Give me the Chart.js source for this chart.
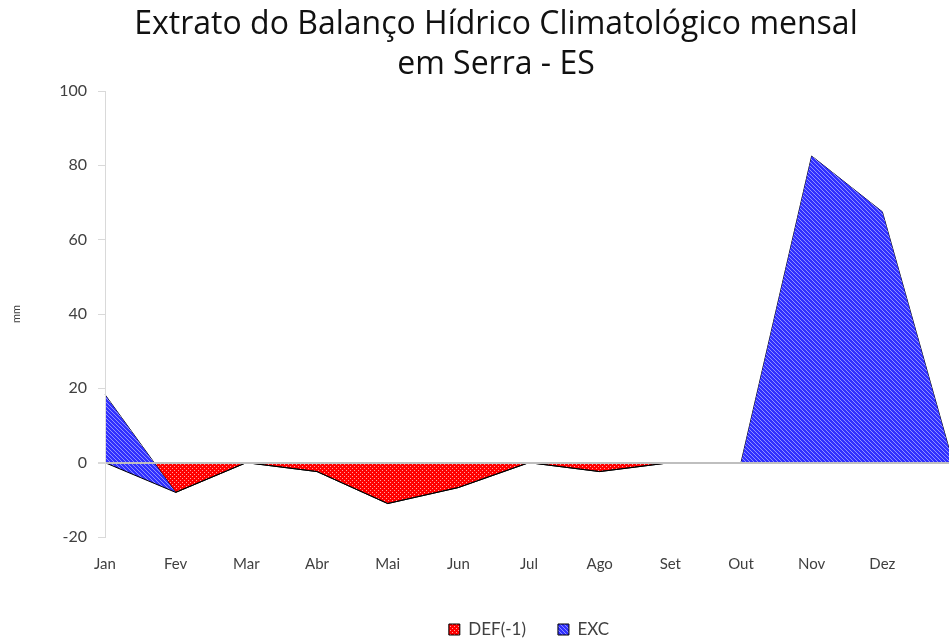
<!DOCTYPE html>
<html>
<head>
<meta charset="utf-8">
<script src="https://cdn.jsdelivr.net/npm/chart.js@4.4.1/dist/chart.umd.min.js"></script>
<style>
  html, body { margin: 0; padding: 0; overflow: hidden; background: #fff; }
  canvas { display: block; }
</style>
</head>
<body>
<canvas id="balanco" width="992" height="648"></canvas>
<script>
// the last, unlabelled month sits on the right edge of the picture (the plot is cut off there)
var months = ['Jan', 'Fev', 'Mar', 'Abr', 'Mai', 'Jun', 'Jul', 'Ago', 'Set', 'Out', 'Nov', 'Dez', ''];
var defVals = [0, -8, 0, -2.4, -11, -6.7, 0, -2.4, 0, 0, 0, 0, 0];
var excVals = [18.3, 0, 0, 0, 0, 0, 0, 0, 0, 0, 82.5, 67.5, 0];
var yMin = -20;
var yMax = 100;
var yStep = 20;

function makePattern(base, light, kind) {
    var c = document.createElement('canvas');
    c.width = 4;
    c.height = 4;
    var g = c.getContext('2d');
    g.fillStyle = base;
    g.fillRect(0, 0, 4, 4);
    g.fillStyle = light;
    if (kind === 'diag') {
        for (var i = 0; i < 4; i++) {
            g.fillRect(i, i, 1, 1);
        }
    } else {
        g.fillRect(0, 0, 1, 1);
        g.fillRect(2, 2, 1, 1);
    }
    return g.createPattern(c, 'repeat');
}

var redFill = makePattern('#ff0000', '#ffa0a0', 'dots');
var blueFill = makePattern('#3030ff', '#9090ff', 'diag');

Chart.defaults.font.family = 'Lato';

var ctx = document.getElementById('balanco').getContext('2d');

// stacked area like the spreadsheet: EXC sits on top of DEF.
// DEF fills up to the stacked EXC line (blue), the stacked line fills down to zero where it is negative (red),
// so the two regions never overlap.
var data = {
    labels: months,
    datasets: [
        {
            label: 'DEF(-1)',
            data: defVals,
            backgroundColor: redFill,
            borderColor: '#000',
            borderWidth: 1,
            fill: { target: '+1', above: blueFill, below: blueFill }
        },
        {
            label: 'EXC',
            data: excVals,
            backgroundColor: blueFill,
            borderColor: '#000',
            borderWidth: 1,
            fill: { target: 'origin', above: 'rgba(0,0,0,0)', below: redFill }
        }
    ]
};

var options = {
    responsive: false,
    animation: false,
    elements: {
        line: { tension: 0 },
        point: { radius: 0, hoverRadius: 0 }
    },
    plugins: {
        title: {
            display: true,
            text: ['Extrato do Balanço Hídrico Climatológico mensal', 'em Serra - ES'],
            color: '#111',
            font: { family: 'Open Sans', size: 32, weight: 'normal', lineHeight: 1.25 },
            padding: { top: 5, bottom: 6 }
        },
        legend: {
            position: 'bottom',
            fullSize: false,
            labels: {
                boxWidth: 11,
                boxHeight: 11,
                padding: 32,
                color: '#404040',
                font: { size: 17 }
            }
        },
        tooltip: { enabled: false }
    },
    scales: {
        x: {
            grid: { display: false, drawTicks: false },
            border: { display: false },
            ticks: {
                color: '#404040',
                font: { size: 15 },
                padding: 18,
                autoSkip: false,
                maxRotation: 0
            },
            afterFit: function (s) { s.height = 52; }
        },
        y: {
            stacked: true,
            min: yMin,
            max: yMax,
            ticks: {
                stepSize: yStep,
                color: '#404040',
                font: { size: 16 },
                padding: 11
            },
            // the zero line sits on top of the areas, as in the original
            grid: {
                z: 1,
                color: function (c) { return c.tick && c.tick.value === 0 ? '#bfbfbf' : 'rgba(0,0,0,0)'; },
                lineWidth: function (c) { return c.tick && c.tick.value === 0 ? 2 : 1; },
                tickColor: '#d9d9d9',
                tickLength: 7
            },
            border: { display: true, color: '#d9d9d9', width: 1, z: 1 },
            title: {
                display: true,
                text: 'mm',
                color: '#404040',
                font: { size: 11 },
                padding: { top: 10 }
            },
            afterFit: function (s) { s.width = 105; }
        },
        // empty right axis: only keeps room so the plot ends where the picture does
        yRight: {
            position: 'right',
            grid: { display: false, drawTicks: false },
            border: { display: false },
            ticks: { display: false },
            afterFit: function (s) { s.width = 39; }
        }
    }
};

var balancoChart = new Chart(ctx, {
    type: 'line',
    data: data,
    options: options
});
</script>
</body>
</html>
